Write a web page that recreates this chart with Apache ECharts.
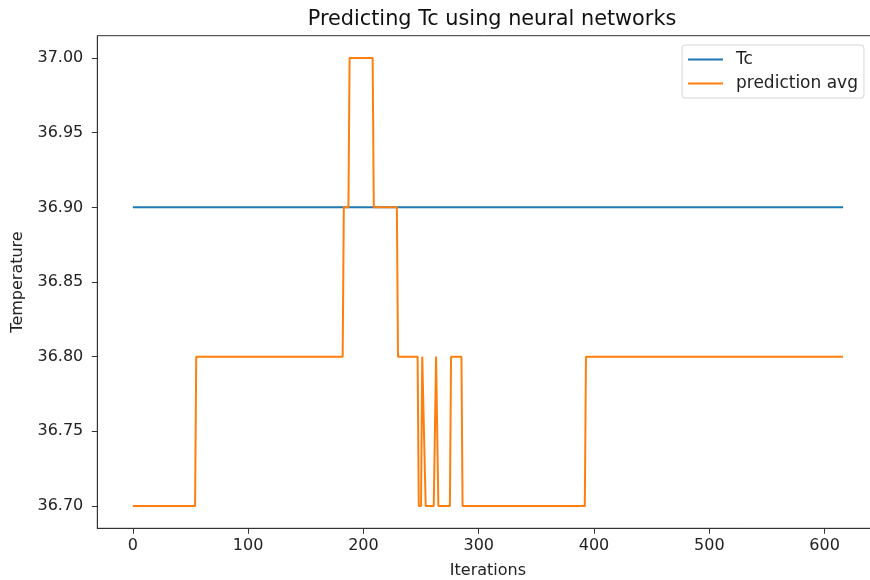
<!DOCTYPE html>
<html>
<head>
<meta charset="utf-8">
<script src="https://cdn.jsdelivr.net/npm/echarts@6/dist/echarts.min.js"></script>
<style>
html,body{margin:0;padding:0;background:#fff;}
#c{width:870px;height:580px;}
</style>
</head>
<body>
<div id="c"></div>
<script>
var titleText = 'Predicting Tc using neural networks';
var xName = 'Iterations';
var yName = 'Temperature';
var seriesNames = ['Tc', 'prediction avg'];
var xTicks = [0, 100, 200, 300, 400, 500, 600];
var yTicks = [36.70, 36.75, 36.80, 36.85, 36.90, 36.95, 37.00];

var tcIter = [0, 616];
var tcVal = [36.9, 36.9];

var predIter = [0, 54, 55, 182, 183, 187, 188, 208, 209, 229, 230, 247, 248, 250, 251, 252, 254, 261, 263, 264, 265, 275, 276, 285, 286, 392, 393, 616];
var predVal = [36.7, 36.7, 36.8, 36.8, 36.9, 36.9, 37.0, 37.0, 36.9, 36.9, 36.8, 36.8, 36.7, 36.7, 36.8, 36.8, 36.7, 36.7, 36.8, 36.8, 36.7, 36.7, 36.8, 36.8, 36.7, 36.7, 36.8, 36.8];

function zip(a, b) { return a.map(function (v, i) { return [v, b[i]]; }); }

var font = 'DejaVu Sans';
var chart = echarts.init(document.getElementById('c'), null, {renderer: 'canvas'});
chart.setOption({
  animation: false,
  backgroundColor: '#fff',
  title: {
    text: titleText,
    left: 487,
    top: 4,
    textAlign: 'center',
    textStyle: {fontFamily: font, fontSize: 20.8, fontWeight: 'normal', color: '#111'}
  },
  legend: {
    orient: 'vertical',
    left: 682,
    top: 45,
    padding: [6, 6, 6, 6],
    itemGap: 7,
    itemWidth: 35,
    itemHeight: 2,
    icon: 'rect',
    borderColor: '#d6d6d6',
    borderWidth: 1,
    borderRadius: 3,
    backgroundColor: 'rgba(255,255,255,0.8)',
    textStyle: {fontFamily: font, fontSize: 17, color: '#222', padding: [0, 0, 0, 8]},
    data: seriesNames
  },
  grid: {
    left: 97.3,
    top: 35.7,
    width: 781.3,
    height: 492.6,
    outerBoundsMode: 'none',
    containLabel: false,
    show: true,
    borderColor: '#333',
    borderWidth: 1,
    backgroundColor: 'transparent'
  },
  xAxis: {
    type: 'value',
    min: -30.8,
    max: 646.8,
    name: xName,
    nameLocation: 'middle',
    nameGap: 35,
    nameTextStyle: {fontFamily: font, fontSize: 16, color: '#222'},
    axisLine: {show: true, onZero: false, lineStyle: {color: '#333', width: 1}},
    axisTick: {show: true, length: 5.5, customValues: xTicks, lineStyle: {color: '#333'}},
    axisLabel: {customValues: xTicks, margin: 10, fontFamily: font, fontSize: 16, color: '#222'},
    splitLine: {show: false}
  },
  yAxis: {
    type: 'value',
    min: 36.685,
    max: 37.015,
    name: yName,
    nameLocation: 'middle',
    nameGap: 71,
    nameTextStyle: {fontFamily: font, fontSize: 16, color: '#222'},
    axisLine: {show: true, onZero: false, lineStyle: {color: '#333', width: 1}},
    axisTick: {show: true, length: 5.5, customValues: yTicks, lineStyle: {color: '#333'}},
    axisLabel: {customValues: yTicks, margin: 14, fontFamily: font, fontSize: 16, color: '#222',
      formatter: function (v) { return Number(v).toFixed(2); }},
    splitLine: {show: false}
  },
  series: [
    {
      name: seriesNames[0], type: 'line', data: zip(tcIter, tcVal),
      showSymbol: false, symbol: 'none',
      lineStyle: {color: '#1f77b4', width: 2}, itemStyle: {color: '#1f77b4'}
    },
    {
      name: seriesNames[1], type: 'line', data: zip(predIter, predVal),
      showSymbol: false, symbol: 'none',
      lineStyle: {color: '#ff7f0e', width: 2}, itemStyle: {color: '#ff7f0e'}
    }
  ]
});
</script>
</body>
</html>
